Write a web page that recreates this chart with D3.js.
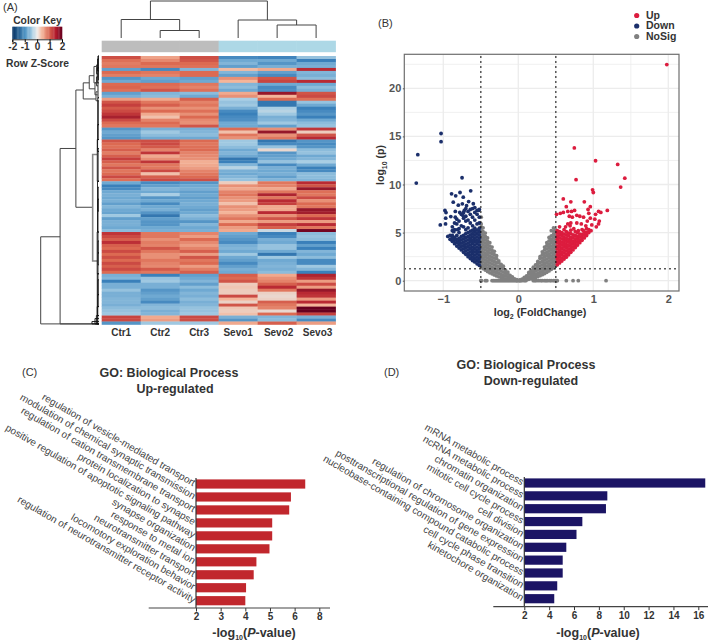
<!DOCTYPE html>
<html lang="en">
<head>
<meta charset="utf-8" />
<title>Sevoflurane figure</title>
<script src="https://d3js.org/d3.v7.min.js"></script>
<style>
    body { margin: 0; background: #fff; }
    text { font-family: "Liberation Sans", Arial, sans-serif; }
</style>
</head>
<body>
<script>
// (A) heatmap
const sampleNames = ["Ctr1", "Ctr2", "Ctr3", "Sevo1", "Sevo2", "Sevo3"];
const sampleGroupColors = ["#bdbdbd", "#bdbdbd", "#bdbdbd", "#add8e6", "#add8e6", "#add8e6"];
const keyTicks = [-2, -1, 0, 1, 2];
// row z-scores, read by eye top to bottom
const heatRows = [
[1.25,.55,1.25,-1.3,-1.35,-.6],[.95,.75,1.2,-1,-1,-1.4],[.85,1,1,-.8,-1.2,-1],[.9,.9,.95,-1.1,-.9,-.9],
[-1.1,-1.3,-.8,.35,.5,1.6],[1,.9,1,-.8,-1.1,-.8],[.85,.8,1,-1.1,-1.3,-.9],[-1.2,-1,-1.1,.7,1.2,-.7],
[-1,-1.1,-1,.4,1.35,1.6],[1,1,.9,-.8,-1,-1],[1.05,.95,.8,-.7,-1.3,-.7],[.95,1.2,.95,-1,-1.25,-.9],
[-1.1,-.8,-.7,.5,1.9,1.2],[-.9,-.7,-1,.7,.4,1.3],[.6,.5,1.1,-.4,1,.95],[1.2,.9,.8,-.6,-1.5,-.6],
[1.4,1.1,.9,-.5,-1.5,-1],[1.15,.7,.7,-.9,-.4,-1.4],[1.3,1,.95,-1.3,-.3,-1.3],[1.5,.5,.7,-1.4,-.5,-1.2],
[1.75,.3,1,-1.3,-.9,-1.4],[1.3,.8,.75,-1.25,-.8,-1],[1,1,.7,-1,-.5,-.7],[.9,.9,1.2,-1,-1.1,-.6],
[-1.2,-.9,-.9,1,.7,1.5],[-1,-.5,-.8,.3,1.9,.2],[-1.1,-.7,-.7,.9,.7,1.2],[-1.2,-1,-1,.7,.9,1.6],
[1.2,1.25,1,-.5,-1.5,-1.2],[1,1.3,.9,-.5,-1.3,-1.3],[.95,1.15,.95,-.7,-.6,-1.2],[1.1,.8,1,-1,.1,-.7],
[.85,1.5,.8,-.8,-1.2,-.6],[1.1,.5,.75,-1,-1.1,-1],[1.4,.7,.7,-1.5,-1,-.8],[1.1,1.5,.45,-1.4,-.6,-.4],
[.9,.9,.5,-.8,-1.3,-1],[1.2,.9,.6,-.3,-.9,-1.4],[.9,1.3,.8,-.9,-1,-1.3],[1,.3,.9,-1,-.9,-.7],
[1.3,1.1,1,-.8,-1.1,-.7],[.95,1.3,1.25,-.6,-.8,-.8],[-1,-1.3,-1.2,.2,.9,1.6],[-1.4,-1.1,-1,.7,.8,1.2],
[-1.3,-.8,-.9,.5,.5,1.9],[-1,-1,-1.1,.8,.9,.95],[-.9,-.4,-1,.9,1.7,.9],[-1,-1.2,-1.1,.7,.9,1.3],
[-.9,-1,-1,.6,1.6,.7],[-1.1,-1.3,-.9,.3,1.4,1],[-.8,-1,-1,.7,.5,.9],[-1,-.9,-1.1,.6,.5,1.9],
[-1.05,-1.2,-1,.4,1.6,1.8],[-.5,-1.5,-.7,.7,.7,1],[-1.1,-1.1,-.9,.9,1.2,1.5],[-.9,-1.2,-1.2,.5,.6,.6],
[-.9,-1.2,-.8,1,1.4,1.6],[-1,-1,-1,.6,1.1,.9],[-.7,-.9,-.9,.5,-.2,2.2],[1.5,.9,.8,-1,-1.4,-.7],
[1.3,.9,.6,-1.1,-1.3,-.6],[1.1,.7,1,-1.2,-.9,-.7],[1.55,.85,.75,-1.3,-1,-1.4],[1.1,.8,.6,-.9,-.6,-1.1],
[1,1.2,.8,-.8,-.6,-1.4],[1.3,.9,1.1,-1,-1,-.8],[1,.7,.6,-.5,-1.5,-1],[1.25,.7,1.2,-1,-.5,-.7],
[1,.9,.9,-1.1,-1,-1.3],[1.3,.8,1,-1.3,-.9,-1.3],[1.1,.75,.6,-1.1,-.8,-.5],[1.3,1.15,.85,-.9,-.9,-.8],
[1,.9,1.1,-1,-.7,-1.4],[-.9,-1.4,-1.1,1.1,.5,1.7],[-.8,-.6,-1,1,.7,1.5],[-1.4,-.5,-.8,1.2,.8,.6],
[-.9,-.9,-1.1,.2,1.1,1.3],[-.9,-.9,-.7,.25,1.6,.6],[-.6,-1.2,-1,.2,.9,1.9],[-.9,-1.1,-.8,.2,.15,1.6],
[-.9,-1,-.9,1.3,.1,1.5],[-.8,-1.1,-.7,.4,.15,.6],[-.8,-1.3,-.9,.15,1.1,1.6],[-.9,-.8,-.8,1.2,.9,.4],
[-.7,-.7,-.6,.25,.8,2.3],[-.6,-.9,-.6,.2,.1,2.3],[-.5,-.8,-.5,.3,1,1.4],[1.35,.5,1.3,-.9,-.8,-.9],
[1.3,.6,1.25,-1.2,-.7,-1.3],[-1.2,-.5,-.5,.5,1.1,.6]
];
// column tree: nodes have a height, leaves are sample indexes
const colTree = { h: 37, kids: [
    { h: 18.5, kids: [0, { h: 7.5, kids: [1, 2] }] },
    { h: 18, kids: [3, { h: 13, kids: [4, 5] }] }
] };
// row tree brackets: rowA, rowB, height, height of child A, height of child B
const rowBrackets = [
[60.6,89.8,58,38.7,1],[31,89.8,38.7,23,1],[11.4,50.7,23,15.7,6.3],[9,14.4,15.7,9.7,3],
[6.6,11,9.7,5,4],[3.5,9,5,2,2],[9,13,4,2,1.5],[12,15,3,1.5,1],[3,6,2.5,1,1],[7,10,2.5,1,1]
];
const rowBracketsGrey = [[33,68.7,6.3,2,2]];
// short merges close to the heatmap: rowA, rowB, height
const rowFine = [
[0,14,1],[0,8,.6],[1,5,1.4],[4,9,1.8],[14,23,1.2],[15,28,.8],[23,32,1.4],[28,42,1.7],[31,42,.9],
[42,59,1.5],[44,52,.8],[48,66,1],[59,73,1.8],[62,70,.9],[66,80,1],[73,87,1.7],[75,84,.9],[80,89.8,1.2],
[84,89.8,1.8],[87,89.8,2.6],[88,89.8,4],[89,89.8,7]
];

// (B) volcano
const volXTicks = [-1, 0, 1, 2];
const volYTicks = [0, 5, 10, 15, 20];
const volXMinor = [-0.5, 0.5, 1.5];
const volYMinor = [2.5, 7.5, 12.5, 17.5, 22.5];
const legendNames = ["Up", "Down", "NoSig"];
const legendColors = ["#dc1c3e", "#1b2f6b", "#808080"];
// dense parts are stored as columns: [log2FC, [log10p, ...]]
const greyColumns = [
[.02,[.02,.08]],[.05,[.05,.15]],[.08,[.06,.2,.35]],[.11,[.1,.3,.5]],[.14,[.14,.4,.7,.85]],[.17,[.2,.45,.75,1.05]],
[.2,[.27,.55,.85,1.2,1.4]],[.23,[.33,.65,1,1.3,1.65]],[.26,[.42,.75,1.1,1.45,1.8,2]],[.29,[.52,.85,1.2,1.55,1.9,2.3,2.5]],
[.32,[.63,.95,1.3,1.65,2,2.35,2.7,3]],[.35,[.75,1.1,1.45,1.8,2.15,2.5,2.85,3.2,3.5]],
[.38,[.88,1.2,1.55,1.9,2.25,2.6,2.95,3.3,3.65,3.95]],[.41,[1.02,1.35,1.7,2.05,2.4,2.75,3.1,3.45,3.8,4.15,4.5]],
[.44,[1.18,1.5,1.85,2.2,2.55,2.9,3.25,3.6,3.95,4.3,4.65,5.2]],[.47,[1.33,1.65,2,2.35,2.7,3.05,3.4,3.75,4.1,4.45,4.8,5.15,5.5]],
[.495,[1.5,1.8,2.15,2.5,2.85,3.2,3.55,3.9,4.25,4.6,4.9,5.3]],
[-.02,[.02,.1]],[-.05,[.05,.18]],[-.08,[.07,.25,.4]],[-.11,[.1,.3,.55]],[-.14,[.14,.4,.7,.9]],[-.17,[.2,.5,.8,1.1]],
[-.2,[.25,.55,.9,1.25,1.5]],[-.23,[.32,.65,1,1.35,1.7]],[-.26,[.4,.75,1.1,1.45,1.85,2.05]],[-.29,[.5,.85,1.2,1.55,1.9,2.3,2.6]],
[-.32,[.6,.95,1.3,1.65,2,2.35,2.7,3.05]],[-.35,[.72,1.05,1.4,1.75,2.1,2.45,2.8,3.15,3.5]],
[-.38,[.82,1.15,1.5,1.85,2.2,2.55,2.9,3.25,3.6,3.95]],[-.41,[.95,1.3,1.65,2,2.35,2.7,3.05,3.4,3.75,4.1,4.45]],
[-.44,[1.1,1.45,1.8,2.15,2.5,2.85,3.2,3.55,3.9,4.25,4.6,4.95]],[-.47,[1.25,1.6,1.95,2.3,2.65,3,3.35,3.7,4.05,4.4,4.75,5.1,5.5]],
[-.495,[1.42,1.75,2.1,2.45,2.8,3.15,3.5,3.85,4.2,4.55,4.9,5.25,5.6,5.9,6.6]]
];
const greyBaseline = [-.5,-.49,-.44,-.42,-.35,-.33,-.31,-.29,-.27,-.25,-.23,-.21,-.19,-.17,-.15,-.13,-.11,-.09,-.07,-.05,-.03,-.01,.01,.03,.05,.08,.1,.2,.22,.24,.27,.3,.32,.35,.37,.39,.42,.44,.47,.49,.51,.52,.64,.73,.8,1.17];
const upColumns = [
[.52,[1.65,1.95,2.3,2.6,2.95,3.3,3.6,3.95,4.3,4.6,4.95,5.2]],[.55,[1.85,2.15,2.5,2.8,3.15,3.5,3.8,4.1,4.45,4.8,5.1]],
[.58,[2.05,2.35,2.7,3,3.35,3.7,4,4.35,4.7,5]],[.61,[2.25,2.55,2.9,3.2,3.55,3.85,4.2,4.5,4.85,5.3]],
[.64,[2.45,2.75,3.1,3.45,3.75,4.1,4.4,4.75,5.1]],[.67,[2.7,3,3.3,3.65,4,4.3,4.65,4.95]],
[.7,[2.95,3.25,3.55,3.85,4.2,4.5,4.9,5.25]],[.73,[3.2,3.5,3.8,4.1,4.45,4.75]],[.76,[3.45,3.75,4.05,4.35,4.7,5.1]],
[.79,[3.7,4,4.3,4.6,5]],[.82,[3.95,4.25,4.55,4.85]],[.85,[4.2,4.5,4.8,5.3]],[.88,[4.45,4.75,5.05]],[.91,[4.7,5,5.4]],[.94,[5,5.3]]
];
const downColumns = [
[-.52,[1.6,1.95,2.3,2.65,3,3.35,3.7,4.05,4.4,4.75,5.1,5.45,6,6.6,7.4]],[-.55,[1.75,2.1,2.45,2.8,3.15,3.5,3.85,4.2,4.55,4.9,5.25,5.9,6.9,7.3]],
[-.58,[1.95,2.3,2.65,3,3.35,3.7,4.05,4.4,4.75,5.1,5.45,6.3,7.1]],[-.61,[2.1,2.45,2.8,3.15,3.5,3.85,4.2,4.55,4.9,5.25,5.7,6.6,7.5]],
[-.64,[2.3,2.65,3,3.35,3.7,4.05,4.4,4.75,5.15,6,6.9,7.4]],[-.67,[2.5,2.85,3.2,3.55,3.9,4.25,4.6,5,5.5,6.3,7.2]],
[-.7,[2.75,3.1,3.45,3.8,4.15,4.5,4.9,5.3,6.2,6.7,7.5]],[-.73,[2.95,3.3,3.65,4,4.35,4.7,5.6,6.5,7.1]],
[-.76,[3.2,3.55,3.9,4.25,4.6,5.7,6.9]],[-.79,[3.4,3.75,4.1,4.4,5,5.4,6.2]],[-.82,[3.6,3.95,4.3,4.7,5.9,6.4]],
[-.85,[3.85,4.2,4.5,5.3,6]],[-.88,[4.1,4.4,4.7,5.2,5.6]],[-.91,[4.3,4.7]]
];
const upScatter = [
[1.98,22.47],[.747,13.8],[1.03,12.47],[1.325,12.09],[1.42,10.66],[1.365,9.73],[.77,10.5],[.99,9.45],[1,9.17],[1.187,7.3],
[.88,8.2],[.7,8.2],[.6,8.5],[.96,7.7],[.51,6.9],[.56,7],[.64,7.7],[.66,7.2],[.71,7.2],[.75,7.3],[.68,6.7],[.78,6.8],[.82,6.7],
[.87,6.6],[.93,7.4],[.94,7],[.96,6.5],[1.07,7.2],[1.1,7.1],[1.03,6.9],[1.02,6.4],[1.08,6.2],[1.07,5.9],[1.04,5.6],[.98,5.8],
[.92,6.2],[.9,5.7],[.84,5.9],[.78,6],[.7,6],[.66,5.9],[.63,5.6],[.69,5.7],[.74,5.4],[.8,5.2],[.87,5.2],[.93,5],[.97,5.2],
[.55,5.6],[.6,7.1],[.72,6.6]
];
const downScatter = [
[-1.03,15.3],[-1.03,14.45],[-1.34,13.1],[-1.36,10.15],[-.75,10.7],[-.89,9.03],[-.835,8.82],[-.777,9.17],[-.635,9.34],[-.734,8.68],
[-.867,8.16],[-.8,7.85],[-.746,7.99],[-.662,8.23],[-.978,7.3],[-.964,7.08],[-.968,6.5],[-.9,6.67],[-1.04,5.8],[-.97,5.9],
[-.94,4.6],[-.84,6.6],[-.86,5.1],[-.81,5.3],[-.88,4.45],[-.72,7.3],[-.69,7.8],[-.58,7.6],[-.53,7.3],[-.6,8],[-.78,7.1],[-.74,6.8],[-.84,7.2]
];

// (C) and (D) bars
const upTerms = ["regulation of vesicle-mediated transport","modulation of chemical synaptic transmission","regulation of cation transmembrane transport","protein localization to synapse","positive regulation of apoptotic signaling pathway","synapse organization","response to metal ion","neurotransmitter transport","locomotory exploration behavior","regulation of neurotransmitter receptor activity"];
const upValues = [6.43, 5.85, 5.78, 5.09, 5.09, 4.98, 4.45, 4.34, 4.03, 4.0];
const upTicks = [2, 3, 4, 5, 6, 7];
const upTickLabels = ["2", "3", "4", "5", "6", "8"];
const downTerms = ["mRNA metabolic process","ncRNA metabolic process","chromatin organization","mitotic cell cycle process","cell division","regulation of chromosome organization","posttranscriptional regulation of gene expression","nucleobase-containing compound catabolic process","cell cycle phase transition","kinetochore organization"];
const downValues = [16.56, 8.68, 8.57, 6.67, 6.2, 5.38, 5.09, 5.09, 4.65, 4.41];
const downTicks = [2, 4, 6, 8, 10, 12, 14, 16];

const svg = d3.select("body").append("svg").attr("width", 709).attr("height", 642);

function label(x, y, str, size, weight, anchor, color) {
    return svg.append("text").attr("x", x).attr("y", y).attr("font-size", size)
        .attr("font-weight", weight || "normal").attr("text-anchor", anchor || "start")
        .attr("fill", color || "#333").text(str);
}
label(3, 11, "(A)", 11);
label(378, 27, "(B)", 11);
label(22, 376, "(C)", 11);
label(384, 376, "(D)", 11);

// ---- heatmap ----
const colX = d3.scaleBand().domain(d3.range(6)).range([101.7, 335.6]);
const rowY = d3.scaleBand().domain(d3.range(heatRows.length)).range([56, 324.5]);
const zColor = d3.scaleLinear()
    .domain([-2.3, -1.4, -1, -.4, 0, .4, 1, 1.6, 2.3])
    .range(["#053061", "#3a80ba", "#6fa9d2", "#a9cee4", "#e6e2df", "#f4b59a", "#dc6a52", "#b92a33", "#67001f"]);

heatRows.forEach((row, r) => {
    svg.append("g").selectAll("rect").data(row).enter().append("rect")
        .attr("x", (d, i) => colX(i))
        .attr("y", rowY(r))
        .attr("width", colX.bandwidth() + 0.3)
        .attr("height", rowY.bandwidth() + 0.3)
        .attr("fill", d => zColor(d));
});
svg.append("g").selectAll("rect").data(sampleGroupColors).enter().append("rect")
    .attr("x", (d, i) => colX(i)).attr("y", 40.7)
    .attr("width", colX.bandwidth() + 0.3).attr("height", 11.5).attr("fill", d => d);
svg.append("g").selectAll("text").data(sampleNames).enter().append("text")
    .attr("x", (d, i) => colX(i) + colX.bandwidth() / 2 + (i > 3 ? 1.5 : 0))
    .attr("y", 336).attr("text-anchor", "middle").attr("font-size", 10)
    .attr("font-weight", "bold").attr("fill", "#333").text(d => d);

// column dendrogram
const treeY = d3.scaleLinear().domain([0, 37]).range([38, 1]);
const dendro = svg.append("g").attr("fill", "none").attr("stroke", "#444").attr("stroke-width", 1);
function nodePos(n) {
    if (typeof n === "number") return { x: colX(n) + colX.bandwidth() / 2, y: treeY(0) };
    const a = nodePos(n.kids[0]), b = nodePos(n.kids[1]), y = treeY(n.h);
    dendro.append("path").attr("d", `M${a.x},${a.y}V${y}H${b.x}V${b.y}`);
    return { x: (a.x + b.x) / 2, y: y };
}
nodePos(colTree);

// row dendrogram
const rowH = d3.scaleLinear().domain([0, 58]).range([99, 40.7]);
const rowPos = d3.scaleLinear().domain([0, heatRows.length]).range([56, 324.5]);
function bracket(g, d) {
    g.append("path").attr("d", `M${rowH(d[3])},${rowPos(d[0])}H${rowH(d[2])}V${rowPos(d[1])}H${rowH(d[4])}`);
}
rowBrackets.forEach(d => bracket(dendro, d));
const dendroGrey = svg.append("g").attr("fill", "none").attr("stroke", "#888").attr("stroke-width", 1.6);
rowBracketsGrey.forEach(d => bracket(dendroGrey, d));
const dendroFine = svg.append("g").attr("fill", "none").attr("stroke", "#111").attr("stroke-width", 0.9);
rowFine.forEach(d => dendroFine.append("path")
    .attr("d", `M${rowH(0)},${rowPos(d[0])}H${rowH(d[2])}V${rowPos(d[1])}H${rowH(0)}`));

// colour key
const keyX = d3.scaleLinear().domain([-2, 2]).range([12.3, 62]);
const keyColor = d3.scaleLinear()
    .domain([-2, -1, -.4, 0, .4, 1, 1.5, 2])
    .range(["#053061", "#4d93c4", "#a9cee4", "#f0eeec", "#f4b59a", "#d6604d", "#b2182b", "#67001f"]);
const keyG = svg.append("g");
keyG.selectAll("rect").data(d3.range(-2, 2, 0.1)).enter().append("rect")
    .attr("x", d => keyX(d)).attr("y", 26.7).attr("width", keyX(0.1) - keyX(0) + 0.3).attr("height", 12.6)
    .attr("fill", d => keyColor(d + 0.05));
const keyAxis = svg.append("g").attr("transform", "translate(0,39.3)")
    .call(d3.axisBottom(keyX).tickValues(keyTicks).tickSize(3).tickPadding(1).tickFormat(d => d));
keyAxis.select(".domain").attr("stroke", "#333");
keyAxis.selectAll("text").attr("font-size", 10).attr("font-weight", "bold").attr("fill", "#333");
label(37.5, 24, "Color Key", 10.3, "bold", "middle");
label(37.5, 67, "Row Z-Score", 10.3, "bold", "middle");

// ---- volcano ----
const volX = d3.scaleLinear().domain([-1, 2]).range([443.3, 668.3]);
const volY = d3.scaleLinear().domain([0, 20]).range([280.7, 88.3]);
const plotL = 404.3, plotR = 679, plotT = 54.3, plotB = 291;

const grid = svg.append("g").attr("stroke", "#ececec");
volXTicks.concat(volXMinor).forEach(v => grid.append("line")
    .attr("x1", volX(v)).attr("x2", volX(v)).attr("y1", plotT).attr("y2", plotB).attr("stroke-width", volXTicks.includes(v) ? 1.3 : 0.8));
volYTicks.concat(volYMinor).forEach(v => grid.append("line")
    .attr("y1", volY(v)).attr("y2", volY(v)).attr("x1", plotL).attr("x2", plotR).attr("stroke-width", volYTicks.includes(v) ? 1.3 : 0.8));

function expand(cols) {
    const out = [];
    cols.forEach(c => c[1].forEach(y => out.push([c[0], y])));
    return out;
}
function dots(points, color) {
    svg.append("g").selectAll("circle").data(points).enter().append("circle")
        .attr("cx", d => volX(d[0])).attr("cy", d => volY(d[1])).attr("r", 1.9).attr("fill", color);
}
dots(expand(greyColumns).concat(greyBaseline.map(x => [x, 0])), legendColors[2]);
dots(expand(downColumns).concat(downScatter), legendColors[1]);
dots(expand(upColumns).concat(upScatter), legendColors[0]);

const dotted = svg.append("g").attr("stroke", "#111").attr("stroke-width", 1.4).attr("stroke-dasharray", "1.4,3.6");
[-0.5, 0.5].forEach(v => dotted.append("line")
    .attr("x1", volX(v)).attr("x2", volX(v)).attr("y1", plotT + 2).attr("y2", plotB));
dotted.append("line").attr("x1", plotL).attr("x2", plotR).attr("y1", volY(1.25)).attr("y2", volY(1.25));

svg.append("rect").attr("x", plotL).attr("y", plotT).attr("width", plotR - plotL).attr("height", plotB - plotT)
    .attr("fill", "none").attr("stroke", "#6e6e6e").attr("stroke-width", 1.2);

const volAxX = svg.append("g").attr("transform", `translate(0,${plotB})`)
    .call(d3.axisBottom(volX).tickValues(volXTicks).tickSize(0).tickPadding(4).tickFormat(d3.format("d")));
const volAxY = svg.append("g").attr("transform", `translate(${plotL},0)`)
    .call(d3.axisLeft(volY).tickValues(volYTicks).tickSize(1.5).tickPadding(1.5).tickFormat(d3.format("d")));
[volAxX, volAxY].forEach(a => {
    a.select(".domain").remove();
    a.selectAll("text").attr("font-size", 11).attr("font-weight", "bold").attr("fill", "#555");
    a.selectAll("line").attr("stroke", "#555");
});

const xTitle = label(540, 315.5, "log", 10.8, "bold", "middle");
xTitle.append("tspan").attr("dy", 3).attr("font-size", 7).text("2");
xTitle.append("tspan").attr("dy", -3).text(" (FoldChange)");
const yTitle = svg.append("text").attr("transform", "translate(384,165) rotate(-90)")
    .attr("text-anchor", "middle").attr("font-size", 10.5).attr("font-weight", "bold").attr("fill", "#333").text("log");
yTitle.append("tspan").attr("dy", 3).attr("font-size", 7).text("10");
yTitle.append("tspan").attr("dy", -3).text(" (p)");

legendNames.forEach((n, i) => {
    const y = [15.5, 26, 36.5][i];
    svg.append("circle").attr("cx", 636.7).attr("cy", y).attr("r", 2.6).attr("fill", legendColors[i]);
    label(646, y + 3, n, 10.5, "bold");
});

// ---- bar panels ----
function barPanel(o) {
    const x = d3.scaleLinear().domain([2, o.maxTick]).range([o.x2, o.xMax]);
    const y = d3.scalePoint().domain(o.terms).range([o.yFirst, o.yLast]);
    svg.append("g").selectAll("rect").data(o.values).enter().append("rect")
        .attr("x", o.x2).attr("y", (d, i) => y(o.terms[i]) - 4.6)
        .attr("width", d => x(d) - o.x2).attr("height", 9.2).attr("fill", o.color);
    svg.append("g").selectAll("text").data(o.terms).enter().append("text")
        .attr("transform", d => `translate(${o.x2 - 3},${y(d) + 2.5}) rotate(30)`)
        .attr("text-anchor", "end").attr("font-size", 10).attr("fill", "#444").text(d => d);
    svg.append("line").attr("x1", o.x2).attr("x2", o.x2).attr("y1", o.yFirst - 6).attr("y2", o.axisY)
        .attr("stroke", "#333").attr("stroke-width", 1.2);
    const ax = svg.append("g").attr("transform", `translate(0,${o.axisY})`)
        .call(d3.axisBottom(x).tickValues(o.ticks).tickSize(3.5).tickPadding(1.5)
            .tickFormat((d, i) => o.tickLabels ? o.tickLabels[i] : d));
    ax.select(".domain").remove();
    ax.selectAll("text").attr("font-size", 10).attr("font-weight", "bold").attr("fill", "#333");
    ax.selectAll("line").attr("stroke", "#333");
    svg.append("line").attr("x1", o.lineL).attr("x2", o.lineR).attr("y1", o.axisY).attr("y2", o.axisY)
        .attr("stroke", "#444").attr("stroke-width", 1.2);
    const t = label(o.labelX, 637, "-log", 12.5, "bold", "middle");
    t.append("tspan").attr("dy", 3).attr("font-size", 7).text("10");
    t.append("tspan").attr("dy", -3).text("(");
    t.append("tspan").attr("font-style", "italic").text("P");
    t.append("tspan").text("-value)");
    label(o.titleX, o.titleY, "GO: Biological Process", 12.5, "bold", "middle");
    label(o.subX, o.titleY + 16.4, o.sub, 12.5, "bold", "middle");
}
barPanel({
    terms: upTerms, values: upValues, ticks: upTicks, tickLabels: upTickLabels, maxTick: 7,
    x2: 196, xMax: 319.3, yFirst: 484, yLast: 600.7, axisY: 608, lineL: 148.7, lineR: 330,
    color: "#c1272d", labelX: 254, titleX: 169, titleY: 377, subX: 175, sub: "Up-regulated"
});
barPanel({
    terms: downTerms, values: downValues, ticks: downTicks, maxTick: 16,
    x2: 524.3, xMax: 698.3, yFirst: 483, yLast: 598.7, axisY: 606.7, lineL: 493.3, lineR: 708,
    color: "#1b1464", labelX: 598, titleX: 526, titleY: 369, subX: 531, sub: "Down-regulated"
});
</script>
</body>
</html>
